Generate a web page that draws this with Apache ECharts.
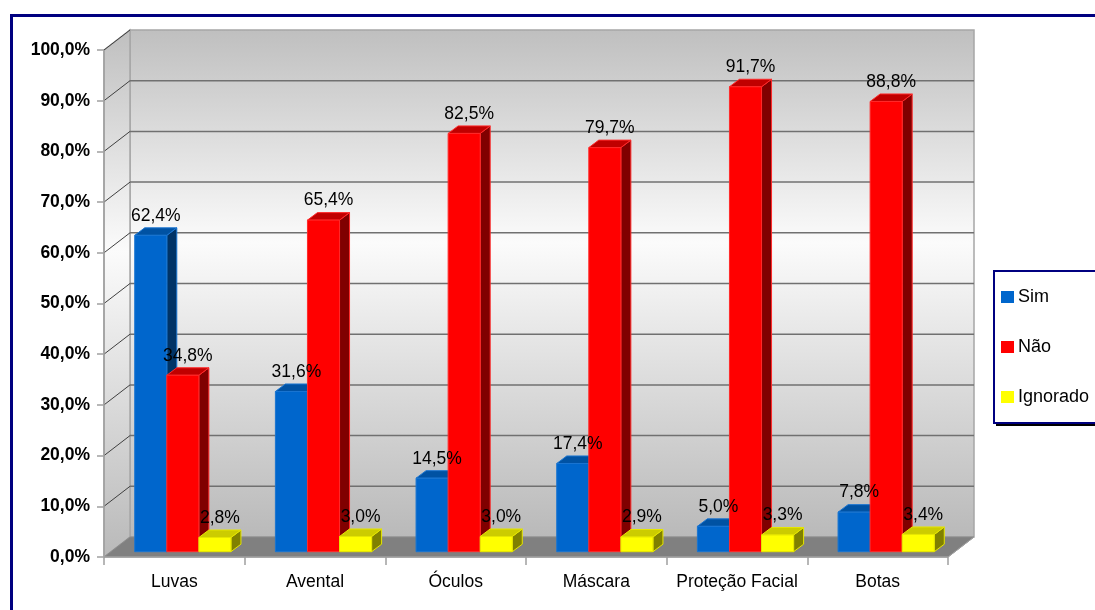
<!DOCTYPE html>
<html>
<head>
<meta charset="utf-8">
<script src="https://cdn.jsdelivr.net/npm/echarts@6/dist/echarts.min.js"></script>
<style>
html,body{margin:0;padding:0;background:#fff;}
#chart{width:1095px;height:610px;}
</style>
</head>
<body>
<div id="chart"></div>
<script>
const categories = ['Luvas', 'Avental', 'Óculos', 'Máscara', 'Proteção Facial', 'Botas'];
const seriesNames = ['Sim', 'Não', 'Ignorado'];
const sim = [62.4, 31.6, 14.5, 17.4, 5.0, 7.8];
const nao = [34.8, 65.4, 82.5, 79.7, 91.7, 88.8];
const ignorado = [2.8, 3.0, 3.0, 2.9, 3.3, 3.4];
const yTicks = [0, 10, 20, 30, 40, 50, 60, 70, 80, 90, 100];

const seriesData = [sim, nao, ignorado];
const palette = [
  { front: '#0066CC', top: '#0052A3', side: '#003366', stroke: '#1a75d1' },
  { front: '#FF0000', top: '#C00000', side: '#800000', stroke: '#ff2a2a' },
  { front: '#FFFF00', top: '#CCCC00', side: '#808000', stroke: '#e6e600' }
];

// 3D geometry (pixels)
const WALL_DX = 26, WALL_DY = -20;     // depth of the whole chart box
const BAR_SX = 8.5, BAR_SY = -5.3;     // bar front plane offset
const BAR_DX = 10, BAR_DY = -7.5;      // bar depth
const BAR_FRAC = 0.228;                // bar width as fraction of category

function fmt(v) { return v.toFixed(1).replace('.', ',') + '%'; }

const chart = echarts.init(document.getElementById('chart'), null, { renderer: 'canvas' });

function wallRender(params, api) {
  const cs = params.coordSys;
  const x0 = cs.x, y0 = cs.y, x1 = cs.x + cs.width, y1 = cs.y + cs.height;
  const children = [];
  const grad = () => new echarts.graphic.LinearGradient(0, 0, 0, 1, [
    { offset: 0, color: '#bfbfbf' },
    { offset: 0.42, color: '#fbfbfb' },
    { offset: 1, color: '#b9b9b9' }
  ]);
  children.push({ type: 'rect', shape: { x: x0 + WALL_DX, y: y0 + WALL_DY, width: cs.width, height: cs.height },
    style: { fill: grad(), stroke: '#a6a6a6', lineWidth: 1.5 } });
  children.push({ type: 'polygon', shape: { points: [[x0, y0], [x0 + WALL_DX, y0 + WALL_DY], [x0 + WALL_DX, y1 + WALL_DY], [x0, y1]] },
    style: { fill: grad(), stroke: '#a6a6a6', lineWidth: 1.5 } });
  yTicks.forEach(function (v) {
    const y = api.coord([0, v])[1];
    if (v > 0 && v < 100) {
      children.push({ type: 'line', shape: { x1: x0 + WALL_DX, y1: y + WALL_DY, x2: x1 + WALL_DX, y2: y + WALL_DY },
        style: { stroke: '#707070', lineWidth: 1.5 } });
    }
    if (v > 0) {
      children.push({ type: 'line', shape: { x1: x0, y1: y, x2: x0 + WALL_DX, y2: y + WALL_DY },
        style: { stroke: '#404040', lineWidth: 1 } });
    }
  });
  children.push({ type: 'polygon', shape: { points: [[x0, y1], [x1, y1], [x1 + WALL_DX, y1 + WALL_DY], [x0 + WALL_DX, y1 + WALL_DY]] },
    style: { fill: '#808080', stroke: '#8a8a8a', lineWidth: 1 } });
  children.push({ type: 'line', shape: { x1: x0, y1: y0, x2: x0, y2: y1 }, style: { stroke: '#a0a0a0', lineWidth: 1.5 } });
  children.push({ type: 'line', shape: { x1: x0, y1: y1, x2: x1, y2: y1 }, style: { stroke: '#a0a0a0', lineWidth: 1.5 } });
  children.push({ type: 'line', shape: { x1: x1, y1: y1, x2: x1 + WALL_DX, y2: y1 + WALL_DY }, style: { stroke: '#a0a0a0', lineWidth: 1 } });
  return { type: 'group', children: children };
}

function makeBarRender(s) {
  return function (params, api) {
    const idx = api.value(0), val = api.value(1);
    const p0 = api.coord([idx, 0]);
    const p1 = api.coord([idx, val]);
    const catW = api.size([1, 0])[0];
    const bw = catW * BAR_FRAC;
    const x = p0[0] - 1.5 * bw + s * bw + BAR_SX;
    const yb = p0[1] + BAR_SY;
    const yt = p1[1] + BAR_SY;
    const c = palette[s];
    const zb = s * 3;
    return {
      type: 'group',
      children: [
        { type: 'polygon', z2: zb, shape: { points: [[x + bw, yt], [x + bw + BAR_DX, yt + BAR_DY], [x + bw + BAR_DX, yb + BAR_DY], [x + bw, yb]] },
          style: { fill: c.side, stroke: c.stroke, lineWidth: 1 } },
        { type: 'polygon', z2: zb + 1, shape: { points: [[x, yt], [x + bw, yt], [x + bw + BAR_DX, yt + BAR_DY], [x + BAR_DX, yt + BAR_DY]] },
          style: { fill: c.top, stroke: c.stroke, lineWidth: 1 } },
        { type: 'rect', z2: zb + 2, shape: { x: x, y: yt, width: bw, height: yb - yt },
          style: { fill: c.front, stroke: c.stroke, lineWidth: 1 } },
        { type: 'text', z2: 100, style: { text: fmt(val), x: x + bw / 2 + BAR_DX / 2, y: yt + BAR_DY - 3,
          align: 'center', verticalAlign: 'bottom', fill: '#000', fontSize: 17.5, fontFamily: 'Liberation Sans' } }
      ]
    };
  };
}

const series = [{
  type: 'custom', name: '_walls', silent: true, z: 1,
  data: [[0, 0]], renderItem: wallRender, animation: false
}];
seriesNames.forEach(function (n, s) {
  series.push({
    type: 'custom', name: n, z: 2, animation: false,
    itemStyle: { color: palette[s].front },
    data: seriesData[s].map(function (v, i) { return [i, v]; }),
    renderItem: makeBarRender(s)
  });
});

chart.setOption({
  animation: false,
  textStyle: { fontFamily: 'Liberation Sans' },
  grid: { left: 104, right: 147, top: 50, bottom: 53, containLabel: false },
  graphic: [{
    type: 'rect', silent: true, z: -10,
    shape: { x: 11.5, y: 15.5, width: 1200, height: 700 },
    style: { fill: 'none', stroke: '#000080', lineWidth: 3 }
  }, {
    type: 'rect', silent: true, z: 4,
    shape: { x: 996, y: 273, width: 200, height: 153 },
    style: { fill: '#000' }
  }, {
    type: 'rect', silent: true, z: 5,
    shape: { x: 994, y: 271, width: 200, height: 152 },
    style: { fill: '#fff', stroke: '#000080', lineWidth: 2 }
  }],
  legend: {
    z: 10,
    data: seriesNames.map(function (n) { return { name: n, icon: 'rect' }; }),
    orient: 'vertical', left: 993, top: 270,
    itemWidth: 13, itemHeight: 12, itemGap: 32,
    padding: [18, 30, 17, 8],
    textStyle: { fontSize: 18, color: '#000', fontFamily: 'Liberation Sans', lineHeight: 18, padding: [0, 0, 0, -1] },
    selectedMode: false
  },
  xAxis: {
    type: 'category', data: categories,
    axisLine: { show: false },
    axisTick: { show: true, interval: 0, length: 8, lineStyle: { color: '#a0a0a0', width: 1.5 } },
    axisLabel: { interval: 0, margin: 16, fontSize: 17.5, color: '#000', fontFamily: 'Liberation Sans' },
    splitLine: { show: false }
  },
  yAxis: {
    type: 'value', min: 0, max: 100, interval: 10,
    axisLine: { show: false },
    axisTick: { show: true, length: 7, lineStyle: { color: '#a0a0a0', width: 1.5 } },
    axisLabel: { margin: 14, fontSize: 17.5, fontWeight: 'bold', color: '#000', fontFamily: 'Liberation Sans',
      formatter: function (v) { return fmt(v); } },
    splitLine: { show: false }
  },
  series: series
});
</script>
</body>
</html>
